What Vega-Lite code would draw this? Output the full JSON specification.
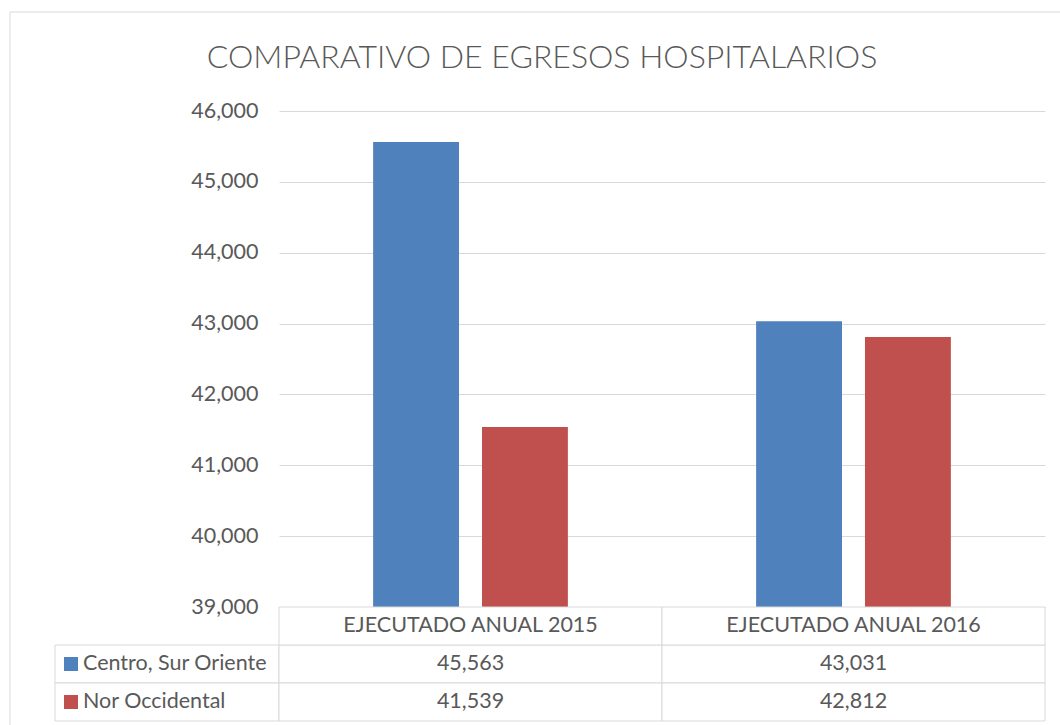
{
  "$schema": "https://vega.github.io/schema/vega-lite/v6.json",
  "padding": {"left": 9, "top": 11, "right": 0, "bottom": 0},
  "background": "white",
  "columns": 3,
  "spacing": 0,
  "bounds": "flush",
  "align": "each",
  "config": {"view": {"stroke": null}, "font": "Lato"},
  "datasets": {
    "bars": [
      {"periodo": "EJECUTADO ANUAL 2015", "serie": "Centro, Sur Oriente", "egresos": 45563},
      {"periodo": "EJECUTADO ANUAL 2015", "serie": "Nor Occidental", "egresos": 41539},
      {"periodo": "EJECUTADO ANUAL 2016", "serie": "Centro, Sur Oriente", "egresos": 43031},
      {"periodo": "EJECUTADO ANUAL 2016", "serie": "Nor Occidental", "egresos": 42812}
    ],
    "periodos": [
      {"periodo": "EJECUTADO ANUAL 2015", "fila": "encabezado"},
      {"periodo": "EJECUTADO ANUAL 2016", "fila": "encabezado"}
    ],
    "series": [
      {"serie": "Centro, Sur Oriente"},
      {"serie": "Nor Occidental"}
    ],
    "one": [{"k": 1}]
  },
  "concat": [
    {
      "width": 45, "height": 99,
      "data": {"name": "one"},
      "layer": [
        {"mark": {"type": "rule", "color": "#d9d9d9", "strokeWidth": 1},
         "encoding": {"x": {"datum": 0, "type": "quantitative", "scale": {"domain": [0, 1]}, "axis": null}}},
        {"mark": {"type": "rule", "color": "#d9d9d9", "strokeWidth": 1},
         "encoding": {"y": {"datum": 1, "type": "quantitative", "scale": {"domain": [0, 1]}, "axis": null}}}
      ]
    },
    {
      "width": 224, "height": 99,
      "data": {"name": "one"},
      "mark": {"type": "rule", "color": "#d9d9d9", "strokeWidth": 1},
      "encoding": {"y": {"datum": 1, "type": "quantitative", "scale": {"domain": [0, 1]}, "axis": null}}
    },
    {
      "width": 782, "height": 99,
      "data": {"name": "one"},
      "layer": [
        {"mark": {"type": "rule", "color": "#d9d9d9", "strokeWidth": 1},
         "encoding": {"y": {"datum": 1, "type": "quantitative", "scale": {"domain": [0, 1]}, "axis": null}}},
        {"mark": {"type": "text", "fontSize": 32, "fontWeight": 300, "color": "#595959", "dx": -128, "dy": -4, "baseline": "middle"},
         "encoding": {"text": {"value": "COMPARATIVO DE EGRESOS HOSPITALARIOS"}}}
      ]
    },
    {
      "width": 45, "height": 496,
      "data": {"name": "one"},
      "mark": {"type": "rule", "color": "#d9d9d9", "strokeWidth": 1},
      "encoding": {"x": {"datum": 0, "type": "quantitative", "scale": {"domain": [0, 1]}, "axis": null}}
    },
    {
      "width": 224, "height": 496,
      "data": {"name": "one"},
      "mark": {"type": "text"},
      "encoding": {"text": {"value": ""}}
    },
    {
      "width": 766, "height": 496,
      "data": {"name": "bars"},
      "mark": {"type": "bar"},
      "encoding": {
        "x": {"field": "periodo", "type": "nominal", "sort": null, "axis": null,
              "scale": {"paddingInner": 0.4915, "paddingOuter": 0.2458}},
        "xOffset": {"field": "serie", "type": "nominal", "sort": null,
                    "scale": {"paddingInner": 0.211, "paddingOuter": 0}},
        "y": {"field": "egresos", "type": "quantitative",
              "scale": {"domain": [39000, 46000], "zero": false, "nice": false},
              "axis": {"values": [39000, 40000, 41000, 42000, 43000, 44000, 45000, 46000],
                       "format": ",.0f", "title": null, "domain": false, "ticks": false,
                       "labelFontSize": 21.5, "labelColor": "#595959", "labelPadding": 21,
                       "gridColor": "#d9d9d9", "gridWidth": 1}},
        "y2": {"datum": 39000},
        "color": {"field": "serie", "type": "nominal", "sort": null,
                  "scale": {"domain": ["Centro, Sur Oriente", "Nor Occidental"], "range": ["#4F81BD", "#C0504D"]},
                  "legend": null}
      }
    },
    {
      "width": 45, "height": 119,
      "data": {"name": "one"},
      "mark": {"type": "rule", "color": "#d9d9d9", "strokeWidth": 1},
      "encoding": {"x": {"datum": 0, "type": "quantitative", "scale": {"domain": [0, 1]}, "axis": null}}
    },
    {
      "width": 224, "height": 114,
      "data": {"name": "series"},
      "encoding": {
        "y": {"field": "serie", "type": "nominal", "axis": null,
              "scale": {"domain": ["encabezado", "Centro, Sur Oriente", "Nor Occidental"], "paddingInner": 0, "paddingOuter": 0}}
      },
      "layer": [
        {"mark": {"type": "rect", "fill": "white", "stroke": "#d9d9d9", "strokeWidth": 1},
         "encoding": {
           "x": {"datum": 0, "type": "quantitative", "scale": {"domain": [0, 1]}, "axis": null},
           "x2": {"datum": 1}
         }},
        {"mark": {"type": "point", "shape": "square", "filled": true, "opacity": 1, "size": 196},
         "encoding": {
           "x": {"datum": 0.0714, "type": "quantitative"},
           "color": {"field": "serie", "type": "nominal",
                     "scale": {"domain": ["Centro, Sur Oriente", "Nor Occidental"], "range": ["#4F81BD", "#C0504D"]},
                     "legend": null}
         }},
        {"mark": {"type": "text", "align": "left", "baseline": "middle", "dx": 28, "fontSize": 21.5, "color": "#595959"},
         "encoding": {
           "x": {"datum": 0, "type": "quantitative"},
           "text": {"field": "serie"}
         }}
      ]
    },
    {
      "width": 766, "height": 114,
      "layer": [
        {"data": {"name": "bars"},
         "mark": {"type": "rect", "fill": "white", "stroke": "#d9d9d9", "strokeWidth": 1},
         "encoding": {
           "x": {"field": "periodo", "type": "nominal", "sort": null, "axis": null, "scale": {"paddingInner": 0, "paddingOuter": 0}},
           "y": {"field": "serie", "type": "nominal", "axis": null,
                 "scale": {"domain": ["encabezado", "Centro, Sur Oriente", "Nor Occidental"], "paddingInner": 0, "paddingOuter": 0}}
         }},
        {"data": {"name": "bars"},
         "mark": {"type": "text", "fontSize": 21.5, "color": "#595959", "baseline": "middle"},
         "encoding": {
           "x": {"field": "periodo", "type": "nominal", "sort": null},
           "y": {"field": "serie", "type": "nominal"},
           "text": {"field": "egresos", "type": "quantitative", "format": ",.0f"}
         }},
        {"data": {"name": "periodos"},
         "mark": {"type": "rect", "fill": "white", "stroke": "#d9d9d9", "strokeWidth": 1},
         "encoding": {
           "x": {"field": "periodo", "type": "nominal", "sort": null},
           "y": {"field": "fila", "type": "nominal"}
         }},
        {"data": {"name": "periodos"},
         "mark": {"type": "text", "fontSize": 21.5, "color": "#595959", "baseline": "middle"},
         "encoding": {
           "x": {"field": "periodo", "type": "nominal", "sort": null},
           "y": {"field": "fila", "type": "nominal"},
           "text": {"field": "periodo"}
         }}
      ]
    }
  ]
}
